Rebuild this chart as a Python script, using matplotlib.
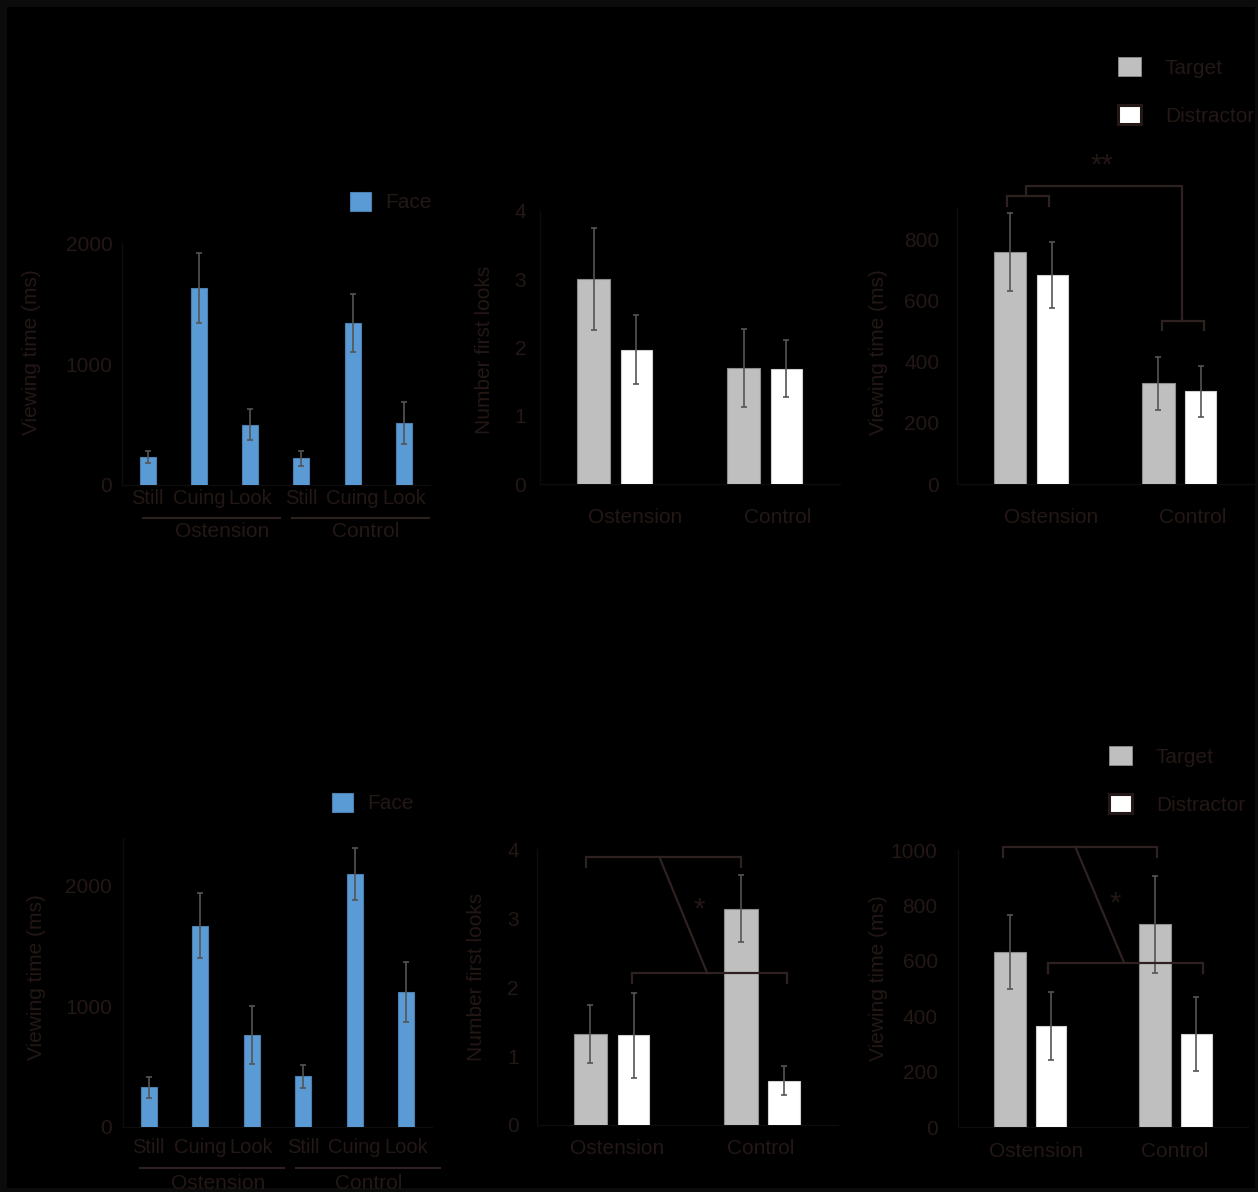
import matplotlib
matplotlib.use("Agg")
import matplotlib.pyplot as plt
from matplotlib.patches import Patch, Rectangle
import numpy as np

plt.rcParams['font.family'] = ['Liberation Sans', 'DejaVu Sans']
plt.rcParams['font.size'] = 14.5

# ---------------- data ----------------
face_cats = ["Still", "Cuing", "Look", "Still", "Cuing", "Look"]
groups = ["Ostension", "Control"]

# Experiment 1
face1_mean = [232, 1631, 498, 222, 1339, 510]
face1_err = [47, 290, 128, 63, 237, 175]
looks1_target = [3.00, 1.70]
looks1_target_err = [0.75, 0.57]
looks1_distr = [1.97, 1.69]
looks1_distr_err = [0.50, 0.42]
view1_target = [759, 329]
view1_target_err = [127, 85]
view1_distr = [683, 303]
view1_distr_err = [109, 82]

# Experiment 2
face2_mean = [327, 1668, 761, 418, 2095, 1115]
face2_err = [87, 268, 240, 94, 216, 249]
looks2_target = [1.32, 3.14]
looks2_target_err = [0.42, 0.48]
looks2_distr = [1.30, 0.64]
looks2_distr_err = [0.62, 0.21]
view2_target = [633, 732]
view2_target_err = [133, 176]
view2_distr = [365, 336]
view2_distr_err = [124, 134]

# ---------------- style ----------------
TXT = '#231815'
SPINE = '#0e0c0c'
ERR = '#555555'
BLUE = '#5B9BD5'
BLUE_EDGE = '#4A7FB0'
GREY = '#BFBFBF'
GREY_EDGE = '#8C8C8C'
LINE = '#2E2220'
FS = 15

W, H = 1258, 1192
fig = plt.figure(figsize=(W / 100, H / 100), dpi=100, facecolor='#0b0b0b')
fig.patches.append(Rectangle((7 / W, 1 - 1188 / H), (1255 - 7) / W, (1188 - 7) / H,
                             transform=fig.transFigure, facecolor='black',
                             edgecolor='none', zorder=-10))


def make_axes(x0, x1, yb, yt):
    ax = fig.add_axes([x0 / W, 1 - yb / H, (x1 - x0) / W, (yb - yt) / H])
    ax.set_facecolor('none')
    for s in ('top', 'right'):
        ax.spines[s].set_visible(False)
    for s in ('left', 'bottom'):
        ax.spines[s].set_color(SPINE)
        ax.spines[s].set_linewidth(1.0)
    ax.tick_params(length=0, colors=TXT, labelcolor=TXT, labelsize=FS)
    return ax


def ylabel(text, x, y):
    fig.text(x / W, 1 - y / H, text, rotation=90, ha='center', va='center',
             color=TXT, fontsize=FS)


def face_panel(ax, means, errs, ytop, ticks, xpad, ypad, line_spans,
               lab_x, line_y, lab_y):
    x = np.arange(len(means))
    ax.bar(x, means, width=0.31, color=BLUE, edgecolor=BLUE_EDGE, linewidth=0.8,
           zorder=3, label='Face')
    ax.errorbar(x, means, yerr=errs, fmt='none', ecolor=ERR, elinewidth=1.2,
                capsize=2.5, capthick=1.2, zorder=4)
    ax.set_xlim(-0.5, 5.5)
    ax.set_ylim(0, ytop)
    ax.set_yticks(ticks)
    ax.set_xticks(x)
    ax.set_xticklabels(face_cats, fontsize=14.5)
    ax.tick_params(axis='x', pad=xpad)
    ax.tick_params(axis='y', pad=ypad)
    tr = ax.get_xaxis_transform()
    for (a, b) in line_spans:
        ax.plot([a, b], [line_y, line_y], color=LINE, lw=1.5, transform=tr,
                clip_on=False)
    for gx, g in zip(lab_x, groups):
        ax.text(gx, lab_y, g, transform=tr, ha='center', va='center', color=TXT,
                fontsize=FS)


def pair_panel(ax, tgt, tgt_err, dis, dis_err, ylim, ticks, ypad, lab_x, lab_y):
    x = np.arange(2)
    off = 0.143
    ax.bar(x - off, tgt, width=0.22, color=GREY, edgecolor=GREY_EDGE, linewidth=0.8,
           zorder=3, label='Target')
    ax.bar(x + off, dis, width=0.21, color='white', edgecolor='#d0d0d0', linewidth=0.8,
           zorder=3, label='Distractor')
    ax.errorbar(x - off, tgt, yerr=tgt_err, fmt='none', ecolor=ERR, elinewidth=1.2,
                capsize=2.5, capthick=1.2, zorder=4)
    ax.errorbar(x + off, dis, yerr=dis_err, fmt='none', ecolor=ERR, elinewidth=1.2,
                capsize=2.5, capthick=1.2, zorder=4)
    ax.set_xlim(-0.5, 1.5)
    ax.set_ylim(*ylim)
    ax.set_yticks(ticks)
    ax.set_xticks([])
    ax.tick_params(axis='y', pad=ypad)
    tr = ax.get_xaxis_transform()
    for gx, g in zip(lab_x, groups):
        ax.text(gx, lab_y, g, transform=tr, ha='center', va='center', color=TXT,
                fontsize=FS)


def bracket(ax, pts):
    xs, ys = zip(*pts)
    ax.plot(xs, ys, color=LINE, lw=1.6, clip_on=False, zorder=5,
            solid_joinstyle='miter')


def face_legend(x, y):
    h = [Patch(facecolor=BLUE, edgecolor=BLUE_EDGE, linewidth=0.8)]
    fig.legend(h, ['Face'], loc='upper left', bbox_to_anchor=(x / W, 1 - y / H),
               frameon=False, handlelength=1.0, handleheight=1.0,
               handletextpad=0.7, borderpad=0, borderaxespad=0,
               labelcolor=TXT, fontsize=FS)


def pair_legend(x, y):
    h = [Patch(facecolor=GREY, edgecolor=GREY_EDGE, linewidth=0.6),
         Patch(facecolor='white', edgecolor=TXT, linewidth=2.2)]
    fig.legend(h, ['Target', 'Distractor'], loc='upper left',
               bbox_to_anchor=(x / W, 1 - y / H), frameon=False,
               handlelength=1.1, handleheight=1.05, handletextpad=1.15,
               labelspacing=1.3, borderpad=0, borderaxespad=0,
               labelcolor=TXT, fontsize=FS)


# ---------------- Experiment 1 (top row) ----------------
axA = make_axes(122, 429.6, 485, 243)
face_panel(axA, face1_mean, face1_err, 2000, [0, 1000, 2000], 3, 7,
           [(-0.10, 2.58), (2.81, 5.49)], [1.445, 4.26], -0.135, -0.193)
ylabel('Viewing time (ms)', 32, 352)
face_legend(350, 192)

axB = make_axes(540, 840, 484.3, 210.7)
pair_panel(axB, looks1_target, looks1_target_err, looks1_distr, looks1_distr_err,
           (0, 4), [0, 1, 2, 3, 4], 10, [0.133, 1.087], -0.123)
ylabel('Number first looks', 485, 350)

axC = make_axes(957, 1253.8, 484.3, 208.4)
pair_panel(axC, view1_target, view1_target_err, view1_distr, view1_distr_err,
           (0, 900), [0, 200, 400, 600, 800], 12.7, [0.133, 1.09], -0.122)
ylabel('Viewing time (ms)', 878, 352)
bracket(axC, [(-0.165, 909), (-0.165, 941), (0.120, 941), (0.120, 909)])
bracket(axC, [(-0.035, 941), (-0.035, 974), (1.014, 974), (1.014, 533)])
bracket(axC, [(0.883, 503), (0.883, 533), (1.166, 533), (1.166, 503)])
axC.text(0.477, 1040, '**', ha='center', va='center', color=TXT, fontsize=21)
pair_legend(1118, 57)

# ---------------- Experiment 2 (bottom row) ----------------
axD = make_axes(123, 431.8, 1126.7, 837.5)
face_panel(axD, face2_mean, face2_err, 2400, [0, 1000, 2000], 8, 8,
           [(-0.17, 2.63), (2.86, 5.66)], [1.35, 4.28], -0.143, -0.195)
ylabel('Viewing time (ms)', 37, 977)
face_legend(332, 793)

axE = make_axes(536.7, 837.9, 1125, 849.3)
pair_panel(axE, looks2_target, looks2_target_err, looks2_distr, looks2_distr_err,
           (0, 4), [0, 1, 2, 3, 4], 13, [0.031, 0.989], -0.0845)
ylabel('Number first looks', 476.7, 976.7)
bracket(axE, [(-0.175, 3.75), (-0.175, 3.89), (0.857, 3.89), (0.857, 3.75)])
bracket(axE, [(0.131, 2.06), (0.131, 2.20), (1.160, 2.20), (1.160, 2.06)])
bracket(axE, [(0.314, 3.89), (0.633, 2.20)])
axE.text(0.58, 3.12, '*', ha='center', va='center', color=TXT, fontsize=21)

axF = make_axes(957.7, 1248.3, 1127.3, 850)
pair_panel(axF, view2_target, view2_target_err, view2_distr, view2_distr_err,
           (0, 1000), [0, 200, 400, 600, 800, 1000], 14.4, [0.037, 0.996], -0.087)
ylabel('Viewing time (ms)', 878, 978.3)
bracket(axF, [(-0.190, 976), (-0.190, 1012), (0.872, 1012), (0.872, 976)])
bracket(axF, [(0.124, 558), (0.124, 594), (1.190, 594), (1.190, 558)])
bracket(axF, [(0.309, 1012), (0.645, 594)])
axF.text(0.587, 808, '*', ha='center', va='center', color=TXT, fontsize=21)
pair_legend(1109, 746)

fig.savefig('out.png', dpi=100, facecolor=fig.get_facecolor())
